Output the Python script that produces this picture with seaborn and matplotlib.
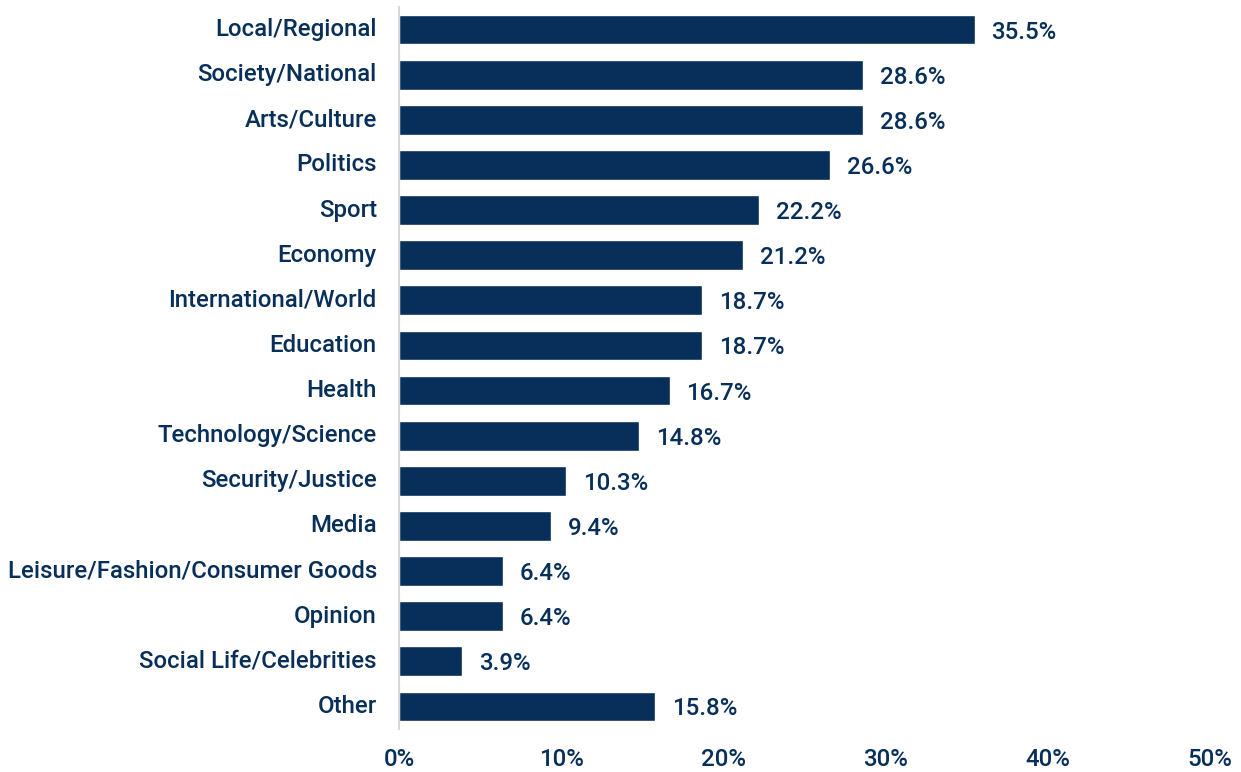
import matplotlib
matplotlib.use("Agg")
import matplotlib.pyplot as plt
from matplotlib.ticker import FuncFormatter
import seaborn as sns
import pandas as pd

categories = [
    "Local/Regional", "Society/National", "Arts/Culture", "Politics", "Sport",
    "Economy", "International/World", "Education", "Health",
    "Technology/Science", "Security/Justice", "Media",
    "Leisure/Fashion/Consumer Goods", "Opinion", "Social Life/Celebrities",
    "Other",
]
shares = [35.5, 28.6, 28.6, 26.6, 22.2, 21.2, 18.7, 18.7, 16.7,
          14.8, 10.3, 9.4, 6.4, 6.4, 3.9, 15.8]
x_ticks = [0, 10, 20, 30, 40, 50]

NAVY = "#072F5A"
FS = 17.3

sns.set_theme(style="white")
plt.rcParams["font.family"] = ["Roboto", "DejaVu Sans"]

df = pd.DataFrame({"category": categories, "share": shares})

fig = plt.figure(figsize=(12.41, 7.72), dpi=100)
ax = fig.add_axes([399 / 1241, 1 - 729 / 772, (1210 - 399) / 1241, (729 - 7) / 772])

sns.barplot(data=df, x="share", y="category", orient="h", color=NAVY,
            saturation=1, width=0.66, ax=ax)

ax.set_xlim(0, 50)
ax.set_ylim(len(categories) - 0.5, -0.5)
ax.set_xticks(x_ticks)
ax.xaxis.set_major_formatter(FuncFormatter(lambda v, _: f"{v:.0f}%"))
ax.set_xlabel("")
ax.set_ylabel("")

for side in ("top", "right", "bottom"):
    ax.spines[side].set_visible(False)
ax.spines["left"].set_color("#D9D9D9")
ax.spines["left"].set_linewidth(1.5)

ax.tick_params(axis="x", length=0, pad=14, labelsize=FS, labelcolor=NAVY)
ax.tick_params(axis="y", length=0, pad=16, labelsize=FS, labelcolor=NAVY)
for lab in ax.get_xticklabels():
    lab.set_fontweight("medium")
for lab in ax.get_yticklabels():
    lab.set_fontweight("medium")
    lab.set_verticalalignment("center")

texts = ax.bar_label(ax.containers[0], labels=[f"{v:.1f}%" for v in shares],
                     padding=12, fontsize=FS, color=NAVY, fontweight="medium")
for t in texts:
    t.set_verticalalignment("center_baseline")

fig.savefig("out.png", dpi=100)
